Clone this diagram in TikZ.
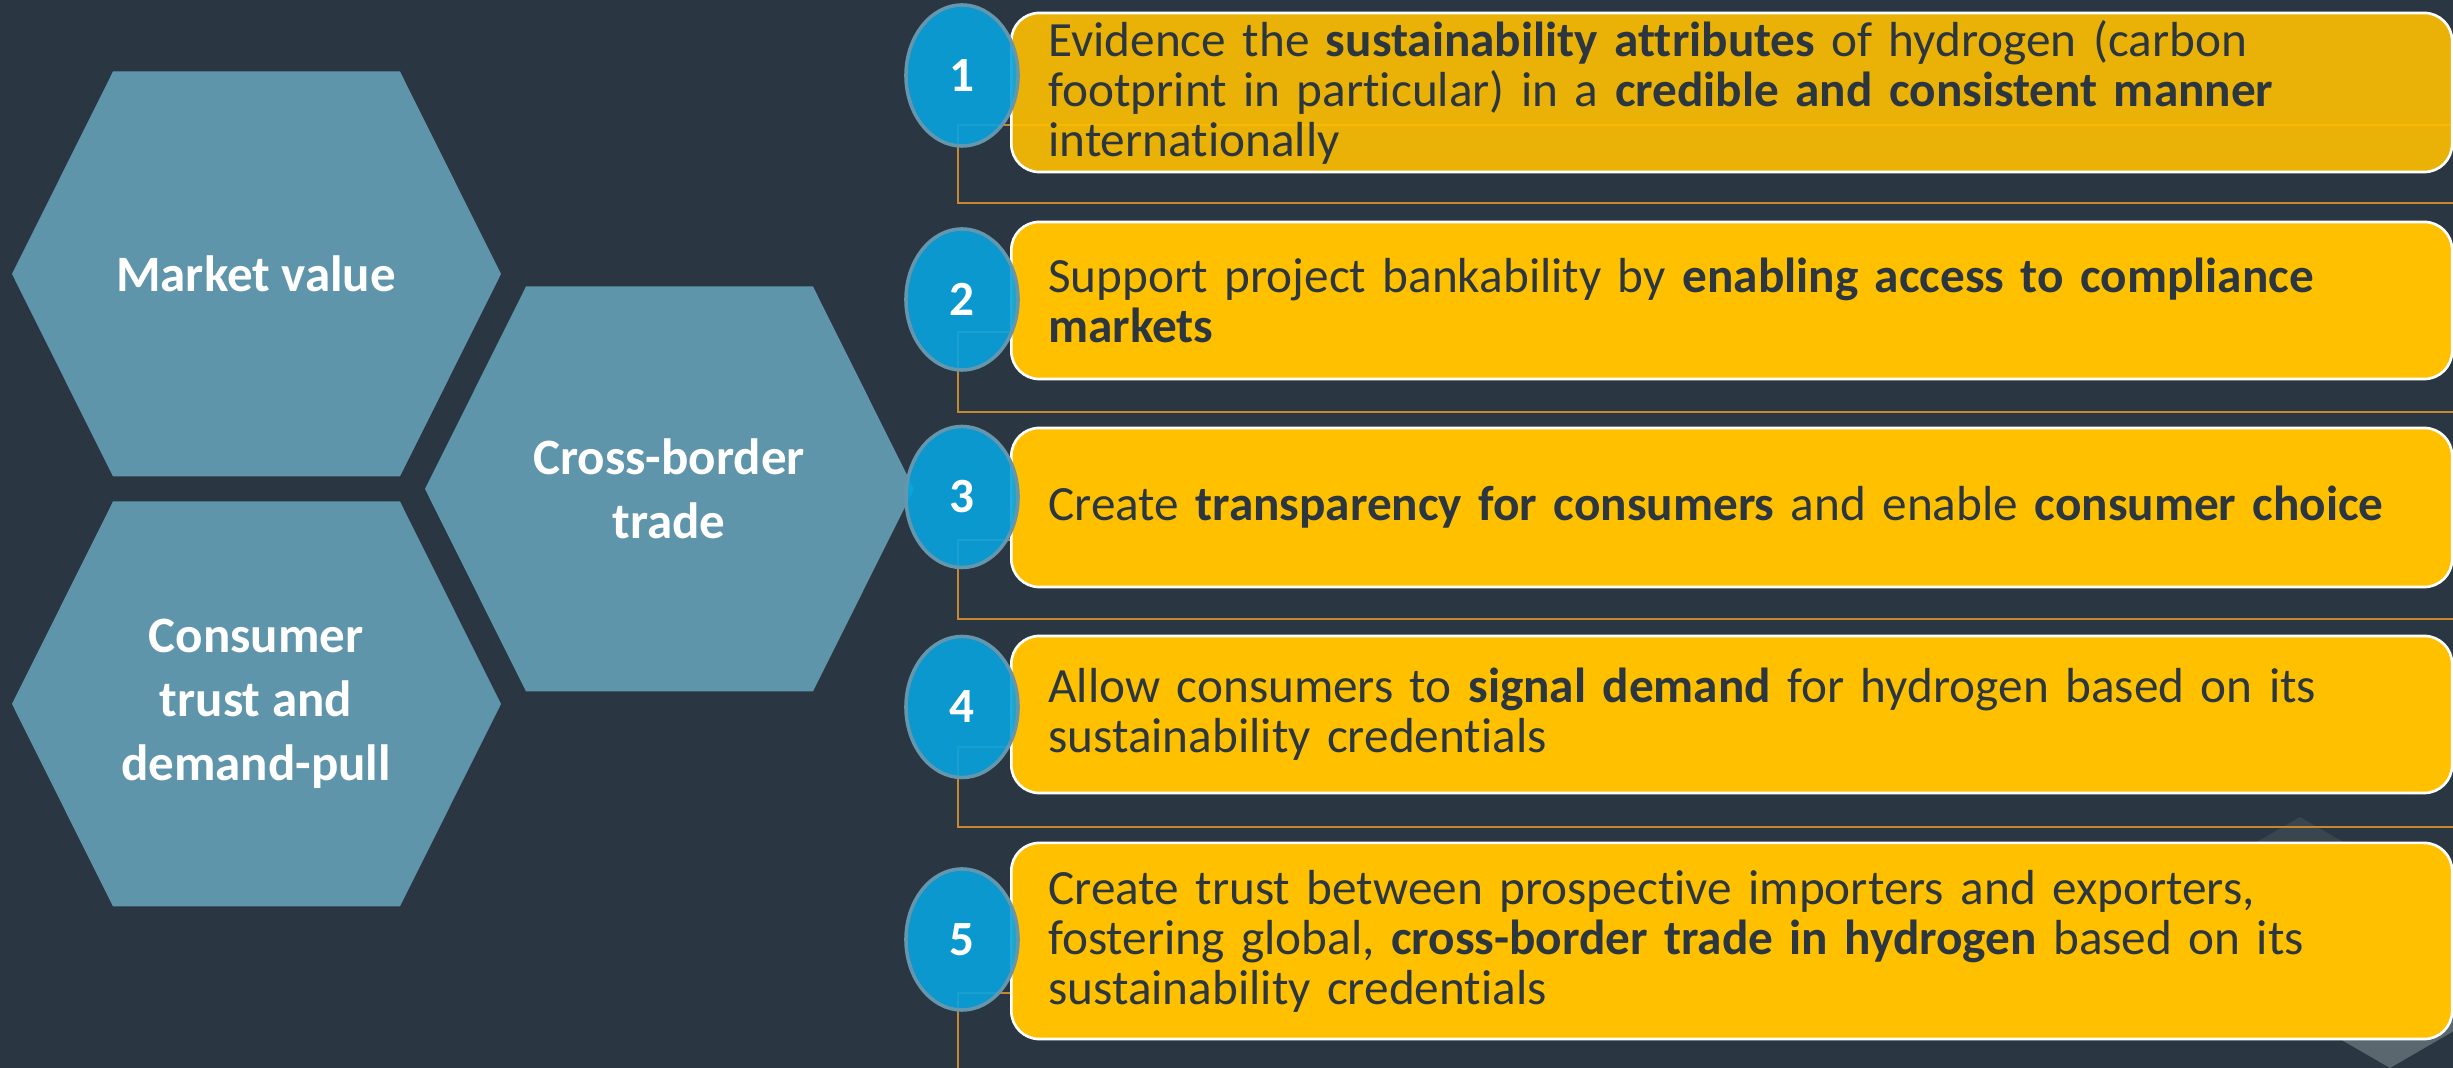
\documentclass[tikz,border=0pt]{standalone}
\usepackage{fontspec}
\setmainfont{Carlito}[Ligatures={NoCommon}]
\usetikzlibrary{positioning}
\usetikzlibrary{shapes.geometric}

\definecolor{bgslate}{HTML}{2A3641}
\definecolor{hexblue}{HTML}{5F95AB}
\definecolor{dotblue}{HTML}{07A3DE}
\definecolor{dotedge}{HTML}{6497AE}
\definecolor{boxgold}{HTML}{FFC000}
\definecolor{textslate}{HTML}{2B3640}
\definecolor{linkorange}{HTML}{C6872F}
\definecolor{wmdark}{HTML}{39454F}
\definecolor{wmlight}{HTML}{5A676F}

\tikzset{
	hexlabel/.style={align=center,text=white,font=\fontsize{14.5}{18.2}\selectfont\bfseries},
	numdot/.style={ellipse,draw=dotedge,line width=1pt,fill=dotblue,fill opacity=0.9,text opacity=1,
		text=white,minimum width=1.12cm,minimum height=1.41cm,inner sep=0pt,font=\fontsize{14}{14}\selectfont\bfseries},
	goalbox/.style={rectangle,rounded corners=0.28cm,draw=white,line width=0.75pt,fill=boxgold,text=textslate,
		anchor=west,text width=13.66cm,inner xsep=0.37cm,inner ysep=0pt,align=left,font=\fontsize{14}{14.2}\selectfont},
	linkline/.style={draw=linkorange,line width=0.65pt}
}

\begin{document}
\begin{tikzpicture}[x=0.01cm,y=-0.01cm]
	\fill[bgslate] (0,0) rectangle (2453,1068);										% фон
	\useasboundingbox (0,0) rectangle (2453,1068);
	\clip (0,0) rectangle (2453,1068);
	\fill[wmdark] (2300,817) -- (2490,927) -- (2300,1037) -- (2110,927) -- cycle;	% знак в углу
	\fill[wmlight] (2390,848) -- (2580,958) -- (2390,1068) -- (2200,958) -- cycle;
	\foreach \hx/\hy/\hname/\htext in {256/274/mval/{Market value},
			669/489/xtrade/{Cross-border\\trade},256/704/ctrust/{Consumer\\trust and\\demand-pull}} {
		\fill[hexblue] (\hx,\hy) ++(-244,0) -- ++(101,-202.5) -- ++(287,0) -- ++(101,202.5)
			-- ++(-101,202.5) -- ++(-287,0) -- cycle;								% шестиугольник
		\node[hexlabel] (\hname) at (\hx,\hy) {\htext};
	}
	\foreach \lt/\lb in {125/203,332/412,540/619,747/827,993/1100}
		\draw[linkline] (958,\lt) rectangle (2500,\lb);								% рамки
	\node[goalbox,minimum height=1.59cm,fill opacity=0.9,text opacity=1] (g1) at (1010,92.5)
		{Evidence the \textbf{sustainability attributes} of hydrogen (carbon\\
		footprint in particular) in a \textbf{credible and consistent manner}\\
		internationally};
	\node[goalbox,minimum height=1.57cm] (g2) at (1010,300.5)
		{Support project bankability by \textbf{enabling access to compliance}\\
		\textbf{markets}};
	\node[goalbox,minimum height=1.59cm] (g3) at (1010,507.5)
		{Create \textbf{transparency for consumers} and enable \textbf{consumer choice}};
	\node[goalbox,minimum height=1.57cm] (g4) at (1010,714.5)
		{Allow consumers to \textbf{signal demand} for hydrogen based on its\\
		sustainability credentials};
	\node[goalbox,minimum height=1.96cm] (g5) at (1010,941)
		{Create trust between prospective importers and exporters,\\
		fostering global, \textbf{cross-border trade in hydrogen} based on its\\
		sustainability credentials};
	\foreach \i/\cy in {1/75.5,2/299.5,3/497,4/707,5/939.5}
		\node[numdot] (n\i) at (962,\cy) {\i};										% номера
\end{tikzpicture}
\end{document}
